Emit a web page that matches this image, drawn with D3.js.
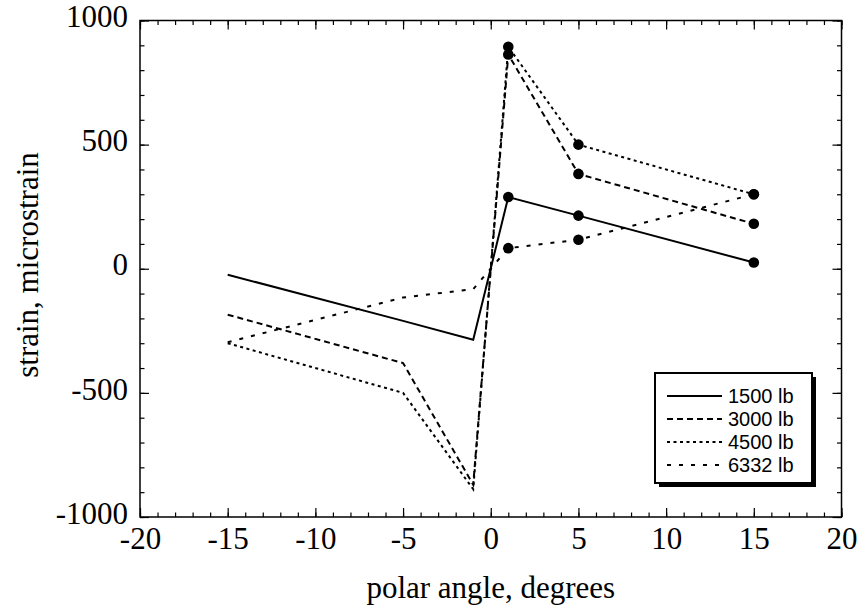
<!DOCTYPE html>
<html>
<head>
<meta charset="utf-8">
<script src="https://cdn.jsdelivr.net/npm/d3@7"></script>
<style>
  body { margin: 0; background: #fff; }
  svg { display: block; }
  .tick text { font-family: "Liberation Serif", "Times New Roman", serif; font-size: 31px; fill: #000; }
  .domain { display: none; }
  .tick line { stroke: #000; stroke-width: 1.2; }
</style>
</head>
<body>
<div id="chart"></div>
<script>
// polar angle (degrees)
var angles = [-15, -5, -1, 1, 5, 15];
// strain (microstrain) per load
var loads = ["1500 lb", "3000 lb", "4500 lb", "6332 lb"];
var strain1500 = [-24, -210, -286, 289, 214, 25];
var strain3000 = [-185, -380, -870, 863, 382, 181];
var strain4500 = [-300, -500, -888, 894, 500, 300];
var strain6332 = [-296, -116, -82, 83, 117, 300];
var xTicks = [-20, -15, -10, -5, 0, 5, 10, 15, 20];
var yTicks = [-1000, -500, 0, 500, 1000];

var series = [strain1500, strain3000, strain4500, strain6332];
var dashes = [null, "6,4", "3,3.5", "4,8"];

var W = 862, H = 608;
var x = d3.scaleLinear().domain([-20, 20]).range([140, 841.5]);
var y = d3.scaleLinear().domain([-1000, 1000]).range([517, 20.5]);

var svg = d3.select("#chart").append("svg")
    .attr("width", W)
    .attr("height", H);

// minor ticks on all four sides
var minorX = d3.range(-20, 21, 1), minorY = d3.range(-1000, 1001, 100);
svg.append("g").attr("transform", "translate(0," + y(-1000) + ")")
  .call(d3.axisBottom(x).tickValues(minorX).tickSize(-4.5).tickFormat(""));
svg.append("g").attr("transform", "translate(0," + y(1000) + ")")
  .call(d3.axisTop(x).tickValues(minorX).tickSize(-4.5).tickFormat(""));
svg.append("g").attr("transform", "translate(" + x(-20) + ",0)")
  .call(d3.axisLeft(y).tickValues(minorY).tickSize(-4.5).tickFormat(""));
svg.append("g").attr("transform", "translate(" + x(20) + ",0)")
  .call(d3.axisRight(y).tickValues(minorY).tickSize(-4.5).tickFormat(""));

// major ticks + labels
svg.append("g").attr("transform", "translate(0," + y(-1000) + ")")
  .call(d3.axisBottom(x).tickValues(xTicks).tickSize(-9).tickPadding(26).tickFormat(d3.format("d")))
  .selectAll("text").attr("dy", "0.2em");
svg.append("g").attr("transform", "translate(0," + y(1000) + ")")
  .call(d3.axisTop(x).tickValues(xTicks).tickSize(-9).tickFormat(""));
svg.append("g").attr("transform", "translate(" + x(-20) + ",0)")
  .call(d3.axisLeft(y).tickValues(yTicks).tickSize(-9).tickPadding(12).tickFormat(d3.format("d")))
  .selectAll("text").attr("dy", "0.2em");
svg.append("g").attr("transform", "translate(" + x(20) + ",0)")
  .call(d3.axisRight(y).tickValues(yTicks).tickSize(-9).tickFormat(""));

// hyphen instead of unicode minus, as in the original
svg.selectAll(".tick text").text(function() { return this.textContent.replace("\u2212", "-"); });

// frame
svg.append("rect")
    .attr("x", x(-20)).attr("y", y(1000))
    .attr("width", x(20) - x(-20)).attr("height", y(-1000) - y(1000))
    .attr("fill", "none").attr("stroke", "#000").attr("stroke-width", 1.5);

// axis titles
svg.append("text")
    .attr("x", (x(-20) + x(20)) / 2).attr("y", 598)
    .attr("text-anchor", "middle")
    .style("font-family", "'Liberation Serif', 'Times New Roman', serif")
    .style("font-size", "31px")
    .text("polar angle, degrees");

svg.append("text")
    .attr("transform", "translate(38,265) rotate(-90)")
    .attr("text-anchor", "middle")
    .style("font-family", "'Liberation Serif', 'Times New Roman', serif")
    .style("font-size", "31px")
    .text("strain, microstrain");

// lines
var line = d3.line()
    .x(function(d) { return x(d[0]); })
    .y(function(d) { return y(d[1]); });

series.forEach(function(vals, i) {
  var pts = angles.map(function(a, j) { return [a, vals[j]]; });
  svg.append("path")
      .datum(pts)
      .attr("fill", "none")
      .attr("stroke", "#000")
      .attr("stroke-width", 2)
      .attr("stroke-dasharray", dashes[i])
      .attr("d", line);
  // markers only on the measured (positive angle) side
  svg.selectAll(null)
      .data(pts.filter(function(p) { return p[0] > 0; }))
      .enter().append("circle")
      .attr("cx", function(d) { return x(d[0]); })
      .attr("cy", function(d) { return y(d[1]); })
      .attr("r", 5.3)
      .attr("fill", "#000");
});

// legend
var lg = svg.append("g");
lg.append("rect").attr("x", 659).attr("y", 377).attr("width", 157).attr("height", 110).attr("fill", "#000");
lg.append("rect").attr("x", 655).attr("y", 373).attr("width", 157).attr("height", 110)
    .attr("fill", "#fff").attr("stroke", "#000").attr("stroke-width", 2);

loads.forEach(function(name, i) {
  var cy = 396 + i * 23;
  lg.append("line")
      .attr("x1", 667).attr("x2", 722).attr("y1", cy).attr("y2", cy)
      .attr("stroke", "#000").attr("stroke-width", 2)
      .attr("stroke-dasharray", dashes[i]);
  lg.append("text")
      .attr("x", 728).attr("y", cy + 7)
      .style("font-family", "'Liberation Sans', Arial, sans-serif")
      .style("font-size", "20px")
      .text(name);
});
</script>
</body>
</html>
